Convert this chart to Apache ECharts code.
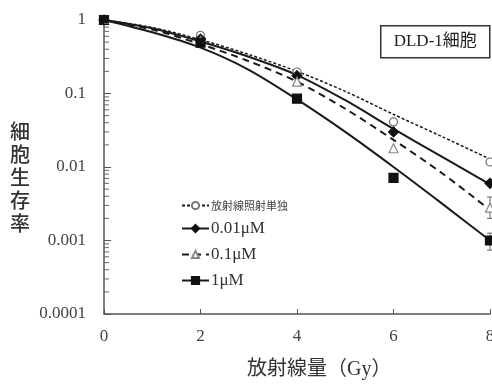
<!DOCTYPE html>
<html>
<head>
<meta charset="utf-8">
<script src="https://cdn.jsdelivr.net/npm/echarts@6/dist/echarts.min.js"></script>
<style>
  html, body { margin: 0; padding: 0; background: #fff; }
  #main { width: 492px; height: 384px; }
</style>
</head>
<body>
<div id="main"></div>
<script>
// 曲線 (fit) の読み取り値
var curveX = [0, 1, 2, 3, 4, 5, 6, 7, 8];
var curveCtrl = [1, 0.79, 0.54, 0.34, 0.20, 0.107, 0.052, 0.026, 0.0128];
var curve001 = [1, 0.77, 0.51, 0.316, 0.178, 0.081, 0.033, 0.0138, 0.0058];
var curve01 = [1, 0.74, 0.47, 0.275, 0.145, 0.062, 0.0234, 0.0083, 0.0026];
var curve1 = [1, 0.68, 0.42, 0.21, 0.083, 0.030, 0.010, 0.0032, 0.001];

// 実測点
var pointX = [0, 2, 4, 6, 8];
var ptsCtrl = [1, 0.62, 0.196, 0.041, 0.0117];
var pts001 = [1, 0.55, 0.175, 0.030, 0.006];
var pts01 = [1, 0.52, 0.145, 0.018, 0.0028];
var pts1 = [1, 0.49, 0.085, 0.0071, 0.001];

// エラーバー [x, low, high]
var errBars = [[8, 0.002, 0.0039], [8, 0.00074, 0.00126]];

var seriesNames = ['放射線照射単独', '0.01μM', '0.1μM', '1μM'];
var xTicks = [0, 2, 4, 6, 8];
var yTickLabels = ['0.0001', '0.001', '0.01', '0.1', '1'];
var decades = [0.0001, 0.001, 0.01, 0.1];
var minorMult = [2, 3, 4, 5, 6, 7, 8, 9];

var minorTicks = [];
decades.forEach(function (d) {
    minorMult.forEach(function (m) { minorTicks.push(+(d * m).toPrecision(3)); });
});

function pairs(xs, ys) {
    return xs.map(function (x, i) { return [x, ys[i]]; });
}

var serif = 'Liberation Serif, Noto Sans CJK JP';
var cjk = 'Noto Sans CJK JP';

var styles = [
    { symbol: 'circle', size: 8, fill: '#fff', border: '#777', dash: [3, 2], width: 1.5 },
    { symbol: 'diamond', size: 10, fill: '#111', border: '#111', dash: 'solid', width: 2 },
    { symbol: 'triangle', size: 9, fill: '#fff', border: '#888', dash: [7, 5], width: 2 },
    { symbol: 'rect', size: 9, fill: '#111', border: '#111', dash: 'solid', width: 2 }
];
var curves = [curveCtrl, curve001, curve01, curve1];
var points = [ptsCtrl, pts001, pts01, pts1];

var series = [];
styles.forEach(function (s, i) {
    series.push({
        name: seriesNames[i],
        type: 'line',
        smooth: 0.3,
        showSymbol: false,
        symbol: s.symbol,
        z: 2,
        silent: true,
        lineStyle: { color: '#1a1a1a', width: s.width, type: s.dash },
        itemStyle: { color: s.fill, borderColor: s.border, borderWidth: 1.2 },
        data: pairs(curveX, curves[i])
    });
});
styles.forEach(function (s, i) {
    series.push({
        name: seriesNames[i],
        type: 'scatter',
        symbol: s.symbol,
        symbolSize: s.size,
        z: 4,
        itemStyle: { color: s.fill, borderColor: s.border, borderWidth: 1.2, opacity: 1 },
        data: pairs(pointX, points[i])
    });
});
// エラーバー
series.push({
    type: 'custom',
    z: 3,
    silent: true,
    renderItem: function (params, api) {
        var top = api.coord([api.value(0), api.value(2)]);
        var bot = api.coord([api.value(0), api.value(1)]);
        var cap = 3;
        var st = { stroke: '#666', lineWidth: 1 };
        return {
            type: 'group',
            children: [
                { type: 'line', shape: { x1: top[0], y1: top[1], x2: bot[0], y2: bot[1] }, style: st },
                { type: 'line', shape: { x1: top[0] - cap, y1: top[1], x2: top[0] + cap, y2: top[1] }, style: st },
                { type: 'line', shape: { x1: bot[0] - cap, y1: bot[1], x2: bot[0] + cap, y2: bot[1] }, style: st }
            ]
        };
    },
    data: errBars
});
// 対数軸の副目盛
series.push({
    type: 'custom',
    z: 5,
    silent: true,
    clip: false,
    renderItem: function (params, api) {
        var p = api.coord([api.value(0), api.value(1)]);
        return {
            type: 'line',
            shape: { x1: p[0], y1: p[1], x2: p[0] + 5, y2: p[1] },
            style: { stroke: '#666', lineWidth: 1 }
        };
    },
    data: minorTicks.map(function (v) { return [0, v]; })
});

var myChart = echarts.init(document.getElementById('main'));
var option = {
    animation: false,
    backgroundColor: '#fff',
    grid: { left: 104, right: 2, top: 20, bottom: 70, outerBoundsMode: 'none', containLabel: false },
    legend: {
        orient: 'vertical',
        left: 176,
        top: 195,
        itemWidth: 27,
        itemHeight: 9,
        itemGap: 9,
        textStyle: { fontFamily: serif, fontSize: 17, color: '#333', padding: [0, 0, 0, -3] },
        data: [
            { name: seriesNames[0], textStyle: { fontFamily: cjk, fontSize: 11, color: '#444' } },
            { name: seriesNames[1] },
            { name: seriesNames[2] },
            { name: seriesNames[3] }
        ]
    },
    xAxis: {
        type: 'value',
        min: 0,
        max: 8,
        interval: 2,
        axisLine: { lineStyle: { color: '#555', width: 1.5 } },
        axisTick: { inside: true, length: 5, lineStyle: { color: '#555' } },
        splitLine: { show: false },
        axisLabel: { fontFamily: serif, fontSize: 17, color: '#444', margin: 14, hideOverlap: false }
    },
    yAxis: {
        type: 'log',
        min: 0.0001,
        max: 1,
        logBase: 10,
        axisLine: { show: true, lineStyle: { color: '#555', width: 1.5 } },
        axisTick: { show: true, inside: true, length: 7, lineStyle: { color: '#555' } },
        splitLine: { show: false },
        axisLabel: {
            fontFamily: serif, fontSize: 17, color: '#444', margin: 18,
            formatter: function (v) {
                var idx = Math.round(Math.log10(v)) + 4;
                return yTickLabels[idx] || '';
            }
        }
    },
    graphic: [
        {
            type: 'text',
            left: 10,
            top: 120,
            style: {
                text: '細\n胞\n生\n存\n率',
                font: '500 20px "Noto Sans CJK JP"',
                lineHeight: 23,
                fill: '#333'
            }
        },
        {
            type: 'text',
            left: 247,
            top: 360,
            style: {
                text: '放射線量（Gy）',
                font: '20px "Liberation Serif", "Noto Sans CJK JP"',
                fill: '#333'
            }
        },
        {
            type: 'group',
            left: 380,
            top: 25,
            children: [
                { type: 'rect', shape: { x: 0, y: 0, width: 109, height: 32 }, style: { fill: '#fff', stroke: '#333', lineWidth: 1.5 } },
                { type: 'text', x: 54.5, y: 16, style: { text: 'DLD-1細胞', font: '17px "Liberation Serif", "Noto Sans CJK JP"', fill: '#222', align: 'center', verticalAlign: 'middle' } }
            ]
        }
    ],
    series: series
};
myChart.setOption(option);
</script>
</body>
</html>
